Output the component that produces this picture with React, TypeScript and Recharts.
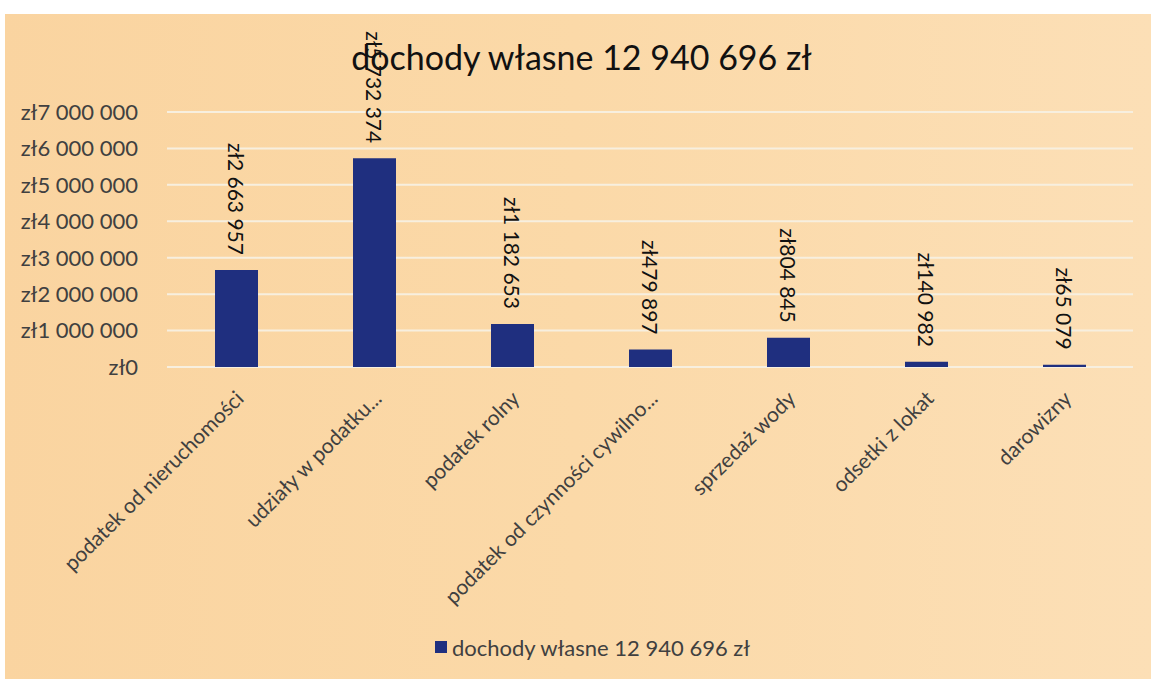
import React from 'react';
import { BarChart, Bar, XAxis, YAxis, CartesianGrid, Legend } from 'recharts';

const categories = [
  'podatek od nieruchomości',
  'udziały w podatku...',
  'podatek rolny',
  'podatek od czynności cywilno...',
  'sprzedaż wody',
  'odsetki z lokat',
  'darowizny',
];
const incomeValues = [2663957, 5732374, 1182653, 479897, 804845, 140982, 65079];
const yTicks = [0, 1000000, 2000000, 3000000, 4000000, 5000000, 6000000, 7000000];
const seriesName = 'dochody własne 12 940 696 zł';

const data = categories.map((name, i) => ({ name, value: incomeValues[i] }));

const FONT = 'Lato, "Open Sans", sans-serif';
const TEXT = '#404040';
const BAR = '#1f2f7f';

const formatZl = (v: number) => 'zł' + String(v).replace(/\B(?=(\d{3})+(?!\d))/g, ' ');

function BarValueLabel(props: any) {
  const { x, y, width, value } = props;
  const cx = x + width / 2;
  const ay = y - 15;
  return (
    <text
      x={cx}
      y={ay}
      transform={`rotate(90, ${cx}, ${ay})`}
      textAnchor="end"
      dominantBaseline="central"
      fill="#111"
      fontSize={21}
      fontFamily={FONT}
    >
      {formatZl(value)}
    </text>
  );
}

function CategoryTick(props: any) {
  const { x, y, payload } = props;
  const ax = x + 3;
  const ay = y + 19;
  return (
    <text
      x={ax}
      y={ay}
      transform={`rotate(-45, ${ax}, ${ay})`}
      textAnchor="end"
      dominantBaseline="central"
      fill={TEXT}
      fontSize={21}
      fontFamily={FONT}
    >
      {payload.value}
    </text>
  );
}

function LegendContent() {
  return (
    <div
      style={{
        height: 24,
        paddingLeft: 52,
        display: 'flex',
        alignItems: 'center',
        justifyContent: 'center',
        fontFamily: FONT,
        fontSize: 22,
        color: TEXT,
      }}
    >
      <span style={{ width: 12, height: 12, background: BAR, marginRight: 5, display: 'inline-block' }} />
      {seriesName}
    </div>
  );
}

export default function App() {
  return (
    <div
      style={{
        position: 'fixed',
        left: 0,
        top: 0,
        width: 1151,
        height: 679,
        overflow: 'hidden',
        background: 'linear-gradient(90deg, #fad4a0 0%, #fbd9a8 50%, #fcdfb6 100%)',
      }}
    >
      <div style={{ position: 'absolute', left: 0, top: 0, width: 1151, height: 14, background: '#fff' }} />
      <div style={{ position: 'absolute', left: 0, top: 0, width: 5, height: 679, background: '#fff' }} />
      <div
        style={{
          position: 'absolute',
          left: 6,
          width: 1151,
          top: 36,
          textAlign: 'center',
          fontFamily: FONT,
          fontSize: 34,
          color: '#111',
        }}
      >
        {seriesName}
      </div>
      <div style={{ position: 'absolute', left: 0, top: 0 }}>
        <BarChart width={1151} height={679} data={data} margin={{ top: 112, right: 18, left: 0, bottom: 20 }}>
          <CartesianGrid vertical={false} stroke="#f7efdf" strokeWidth={2} />
          <XAxis
            dataKey="name"
            axisLine={false}
            tickLine={false}
            interval={0}
            height={268}
            tick={<CategoryTick />}
          />
          <YAxis
            width={167}
            domain={[0, 7000000]}
            ticks={yTicks}
            axisLine={false}
            tickLine={false}
            tickSize={0}
            tickMargin={29}
            tickFormatter={formatZl}
            tick={{ fill: TEXT, fontSize: 22, fontFamily: FONT }}
          />
          <Legend verticalAlign="bottom" height={24} content={<LegendContent />} />
          <Bar dataKey="value" name={seriesName} fill={BAR} barSize={43} isAnimationActive={false} label={<BarValueLabel />} />
        </BarChart>
      </div>
    </div>
  );
}
